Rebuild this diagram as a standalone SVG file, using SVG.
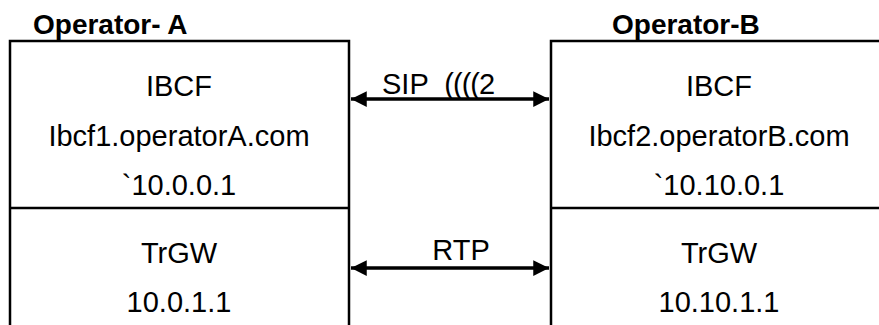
<svg xmlns="http://www.w3.org/2000/svg" width="879" height="325" viewBox="0 0 879 325">
<style>
.box{fill:none;stroke:#000;stroke-width:2.5}
.t{font-family:"Liberation Sans",Arial,sans-serif;font-size:29px;fill:#000;text-anchor:middle}
.h{font-family:"Liberation Sans",Arial,sans-serif;font-size:28px;font-weight:bold;fill:#000}
.s{font-family:"Liberation Sans",Arial,sans-serif;font-size:29px;fill:#000}
.conn{stroke:#000;stroke-width:3.5;fill:none}
</style>
<defs>
<marker id="ah" viewBox="0 0 10 10" refX="10" refY="5" markerWidth="4.5" markerHeight="4.5" orient="auto-start-reverse" markerUnits="strokeWidth">
<path d="M0,0 L10,5 L0,10 Z" fill="#000"/>
</marker>
</defs>
<rect width="879" height="325" fill="#fff"/>
<text class="h" x="33" y="34">Operator- A</text>
<text class="h" x="612" y="34">Operator-B</text>
<g id="ibcfA">
<path class="box" d="M10,340 V41 H349 V340"/>
<text class="t" x="179" y="96">IBCF</text>
<text class="t" x="179" y="146">Ibcf1.operatorA.com</text>
<text class="t" x="179" y="195">`10.0.0.1</text>
</g>
<g id="trgwA">
<path class="box" d="M10,208 H349"/>
<text class="t" x="179" y="263">TrGW</text>
<text class="t" x="179" y="312">10.0.1.1</text>
</g>
<g id="ibcfB">
<path class="box" d="M551,340 V41 H890"/>
<text class="t" x="719" y="96">IBCF</text>
<text class="t" x="719" y="146">Ibcf2.operatorB.com</text>
<text class="t" x="719" y="195">`10.10.0.1</text>
</g>
<g id="trgwB">
<path class="box" d="M551,208 H890"/>
<text class="t" x="719" y="263">TrGW</text>
<text class="t" x="719" y="312">10.10.1.1</text>
</g>
<g id="connectors">
<line class="conn" x1="351" y1="99" x2="549" y2="99" marker-start="url(#ah)" marker-end="url(#ah)"/>
<text class="s" x="382" y="94" xml:space="preserve">SIP  <tspan letter-spacing="-1">((((</tspan>2</text>
<line class="conn" x1="351" y1="268" x2="549" y2="268" marker-start="url(#ah)" marker-end="url(#ah)"/>
<text class="t" x="461" y="260">RTP</text>
</g>
</svg>
